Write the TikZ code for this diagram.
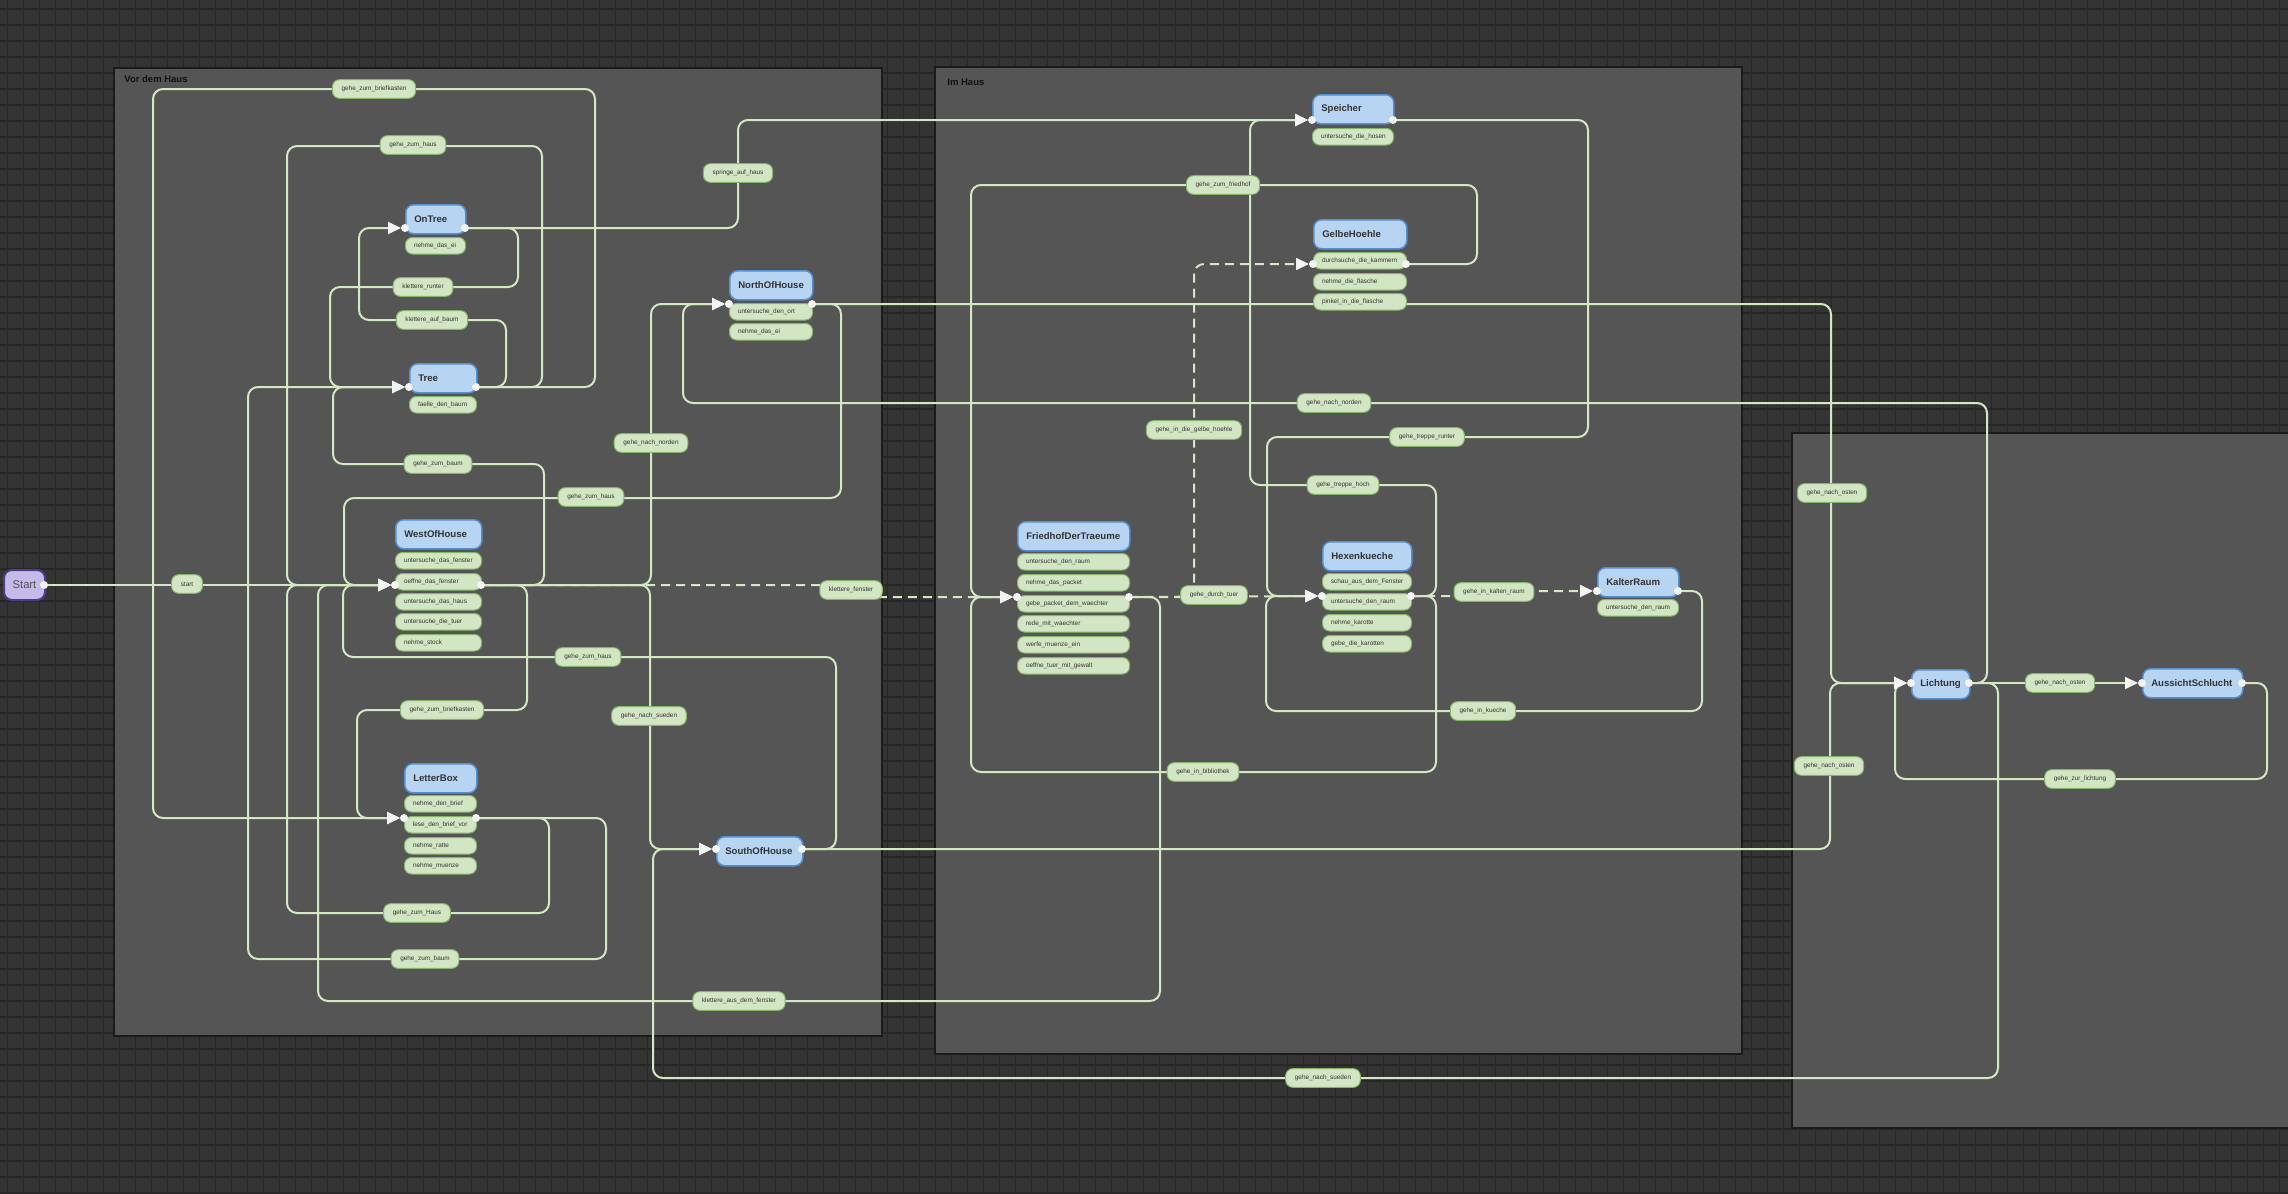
\documentclass[tikz,border=0pt]{standalone}
\usepackage{fontspec}
\setmainfont{Liberation Sans}
\usetikzlibrary{arrows.meta}
\definecolor{bgcol}{HTML}{343434}
\definecolor{gridcol}{HTML}{272727}
\definecolor{groupfill}{HTML}{555555}
\definecolor{groupborder}{HTML}{1B1B1B}
\definecolor{grouptext}{HTML}{111111}
\definecolor{statefill}{HTML}{B7D4F3}
\definecolor{stateborder}{HTML}{5590D0}
\definecolor{itemfill}{HTML}{D3E6C3}
\definecolor{itemborder}{HTML}{86B46A}
\definecolor{edgecol}{HTML}{D3E8C3}
\definecolor{textcol}{HTML}{333333}
\definecolor{startfill}{HTML}{C6BAE8}
\definecolor{startborder}{HTML}{4E3D8F}
\definecolor{portcol}{HTML}{F4F4F4}
\newcommand\stn[5]{\node[stbox] (#1) at (#2,#3) {\makebox[#4pt][l]{#5}};}
\newcommand\itm[5]{\node[itembox] (#1) at (#2,#3) {\makebox[#4pt][l]{#5}};}
\begin{document}
\begin{tikzpicture}[x=0.5pt,y=-0.5pt,
  conn/.style={draw=edgecol, line width=1pt, rounded corners=5pt, -{Triangle[length=6.5pt,width=6pt,color=portcol,fill=portcol]}},
  dconn/.style={conn, dash pattern=on 4.5pt off 3pt},
  elabel/.style={draw=itemborder, fill=itemfill, line width=0.5pt, rounded corners=3.5pt, font=\fontsize{3.2}{3.8}\selectfont, text=textcol, minimum height=9.3pt, inner xsep=4.6pt, inner ysep=0pt},
  itembox/.style={draw=itemborder, fill=itemfill, line width=0.5pt, rounded corners=3.5pt, font=\fontsize{3.2}{3.8}\selectfont, text=textcol, minimum height=8.25pt, inner xsep=4.25pt, inner ysep=0pt, anchor=north west},
  stbox/.style={draw=stateborder, fill=statefill, line width=0.75pt, rounded corners=4pt, font=\bfseries\fontsize{4.8}{5.6}\selectfont, text=textcol, minimum height=14.5pt, inner xsep=4.25pt, inner ysep=0pt, anchor=north west},
  portdot/.style={circle, fill=portcol, inner sep=0pt, minimum size=4pt},
  grp/.style={fill=groupfill, draw=groupborder, line width=0.8pt},
  grplab/.style={font=\bfseries\fontsize{4.75}{5.5}\selectfont, text=grouptext, anchor=west, inner sep=0pt}
]
\useasboundingbox (0,0) rectangle (2288,1194);
% background grid
\fill[bgcol] (0,0) rectangle (2288,1194);
\foreach \i in {0,...,143} \draw[gridcol, line width=0.8pt] (7.5+16*\i,0) -- (7.5+16*\i,1194);
\foreach \j in {0,...,74} \draw[gridcol, line width=0.8pt] (0,9+16*\j) -- (2288,9+16*\j);
% groups
\draw[grp] (114,68) rectangle (882,1036);
\draw[grp] (935,67) rectangle (1742,1054);
\draw[grp] (1792,433) rectangle (2300,1128);
\node[grplab] (g1) at (124,79) {Vor dem Haus};
\node[grplab] (g2) at (947,82) {Im Haus};

% port coordinates
\coordinate (Starto) at (44,585);
\coordinate (OnTreei) at (401,228); \coordinate (OnTreeo) at (465,228);
\coordinate (Treei) at (405,387);   \coordinate (Treeo) at (476,387);
\coordinate (NOHi) at (725,304);    \coordinate (NOHo) at (812,304);
\coordinate (WOHi) at (391,585);    \coordinate (WOHo) at (481,585);
\coordinate (LBi) at (400,818);     \coordinate (LBo) at (476,818);
\coordinate (SOHi) at (712,849);    \coordinate (SOHo) at (802,849);
\coordinate (Spi) at (1308,120);    \coordinate (Spo) at (1393,120);
\coordinate (GHi) at (1309,264);    \coordinate (GHo) at (1406,264);
\coordinate (FDi) at (1013,597);    \coordinate (FDo) at (1129,597);
\coordinate (Hexi) at (1318,596);   \coordinate (Hexo) at (1411,596);
\coordinate (KRi) at (1593,591);    \coordinate (KRo) at (1678,591);
\coordinate (Lii) at (1907,683);    \coordinate (Lio) at (1969,683);
\coordinate (Ausi) at (2138,683);   \coordinate (Auso) at (2242,683);

% dashed connectors
\draw[dconn, rounded corners=2pt] (WOHo) -- (851,585) -- (851,597) -- (FDi);
\draw[dconn] (FDo) -| (1194,264) -- (GHi);
\draw[dconn] (FDo) -- (Hexi);
\draw[dconn, rounded corners=2pt] (Hexo) -- (1494,596) -- (1494,591) -- (KRi);

% solid connectors
\draw[conn] (Starto) -- (WOHi);
\draw[conn] (Treeo) -| (595,89) -| (153,818) -- (LBi);
\draw[conn] (Treeo) -| (542,146) -| (287,585) -- (WOHi);
\draw[conn] (OnTreeo) -| (518,287) -| (330,387) -- (Treei);
\draw[conn] (Treeo) -| (506,320) -| (359,228) -- (OnTreei);
\draw[conn] (OnTreeo) -| (738,120) -- (Spi);
\draw[conn] (WOHo) -| (544,464) -| (333,387) -- (Treei);
\draw[conn] (LBo) -| (606,959) -| (248,387) -- (Treei);
\draw[conn] (NOHo) -| (841,498) -| (344,585) -- (WOHi);
\draw[conn] (WOHo) -| (651,304) -- (NOHi);
\draw[conn] (Lio) -| (1987,403) -| (683,304) -- (NOHi);
\draw[conn] (WOHo) -| (650,849) -- (SOHi);
\draw[conn] (SOHo) -| (836,657) -| (343,585) -- (WOHi);
\draw[conn] (WOHo) -| (527,710) -| (357,818) -- (LBi);
\draw[conn] (LBo) -| (549,913) -| (287,585) -- (WOHi);
\draw[conn] (FDo) -| (1160,1001) -| (318,585) -- (WOHi);
\draw[conn] (NOHo) -| (1831,683) -- (Lii);
\draw[conn] (SOHo) -| (1830,683) -- (Lii);
\draw[conn] (Lio) -| (1998,1078) -| (653,849) -- (SOHi);
\draw[conn] (Lio) -- (Ausi);
\draw[conn] (Auso) -| (2267,779) -| (1895,683) -- (Lii);
\draw[conn] (GHo) -| (1477,185) -| (971,597) -- (FDi);
\draw[conn] (Spo) -| (1588,437) -| (1267,596) -- (Hexi);
\draw[conn] (Hexo) -| (1436,485) -| (1250,120) -- (Spi);
\draw[conn] (KRo) -| (1702,711) -| (1266,596) -- (Hexi);
\draw[conn] (Hexo) -| (1436,772) -| (971,597) -- (FDi);

% connector labels
\node[elabel] (l1) at (187,584) {start};
\node[elabel] (l2) at (374,89) {gehe\_zum\_briefkasten};
\node[elabel] (l3) at (413,145) {gehe\_zum\_haus};
\node[elabel] (l4) at (738,173) {springe\_auf\_haus};
\node[elabel] (l5) at (423,287) {klettere\_runter};
\node[elabel] (l6) at (432,320) {klettere\_auf\_baum};
\node[elabel] (l7) at (651,443) {gehe\_nach\_norden};
\node[elabel] (l8) at (438,464) {gehe\_zum\_baum};
\node[elabel] (l9) at (591,497) {gehe\_zum\_haus};
\node[elabel] (l10) at (588,657) {gehe\_zum\_haus};
\node[elabel] (l11) at (442,710) {gehe\_zum\_briefkasten};
\node[elabel] (l12) at (649,716) {gehe\_nach\_sueden};
\node[elabel] (l13) at (417,913) {gehe\_zum\_Haus};
\node[elabel] (l14) at (425,959) {gehe\_zum\_baum};
\node[elabel] (l15) at (739,1001) {klettere\_aus\_dem\_fenster};
\node[elabel] (l16) at (851,590) {klettere\_fenster};
\node[elabel] (l17) at (1223,185) {gehe\_zum\_friedhof};
\node[elabel] (l18) at (1334,403) {gehe\_nach\_norden};
\node[elabel] (l19) at (1194,430) {gehe\_in\_die\_gelbe\_hoehle};
\node[elabel] (l20) at (1427,437) {gehe\_treppe\_runter};
\node[elabel] (l21) at (1343,485) {gehe\_treppe\_hoch};
\node[elabel] (l22) at (1214,595) {gehe\_durch\_tuer};
\node[elabel] (l23) at (1494,592) {gehe\_in\_kalten\_raum};
\node[elabel] (l24) at (1483,711) {gehe\_in\_kueche};
\node[elabel] (l25) at (1203,772) {gehe\_in\_bibliothek};
\node[elabel] (l26) at (1323,1078) {gehe\_nach\_sueden};
\node[elabel] (l27) at (1832,493) {gehe\_nach\_osten};
\node[elabel] (l28) at (1829,766) {gehe\_nach\_osten};
\node[elabel] (l29) at (2060,683) {gehe\_nach\_osten};
\node[elabel] (l30) at (2080,779) {gehe\_zur\_lichtung};

% start node
\node[draw=startborder, fill=startfill, line width=1pt, rounded corners=4pt, minimum width=20.5pt, minimum height=15pt, inner sep=0pt, anchor=north west, font=\fontsize{5.6}{6.5}\selectfont, text=textcol!85!white] (Start) at (3,569) {Start};

% states and their items
\stn{OnTree}{405}{204}{21.5}{OnTree}
\itm{OnTree1}{405}{237}{21.5}{nehme\_das\_ei}
\stn{Tree}{409}{363}{25}{Tree}
\itm{Tree1}{409}{396}{25}{faelle\_den\_baum}
\stn{NOH}{729}{270}{33}{NorthOfHouse}
\itm{NOH1}{729}{303}{33}{untersuche\_den\_ort}
\itm{NOH2}{729}{323}{33}{nehme\_das\_ei}
\stn{WOH}{395}{519}{34.5}{WestOfHouse}
\itm{WOH1}{395}{552}{34.5}{untersuche\_das\_fenster}
\itm{WOH2}{395}{573}{34.5}{oeffne\_das\_fenster}
\itm{WOH3}{395}{593}{34.5}{untersuche\_das\_haus}
\itm{WOH4}{395}{613}{34.5}{untersuche\_die\_tuer}
\itm{WOH5}{395}{634}{34.5}{nehme\_stock}
\stn{LB}{404}{763}{27.5}{LetterBox}
\itm{LB1}{404}{795}{27.5}{nehme\_den\_brief}
\itm{LB2}{404}{816}{27.5}{lese\_den\_brief\_vor}
\itm{LB3}{404}{837}{27.5}{nehme\_ratte}
\itm{LB4}{404}{857}{27.5}{nehme\_muenze}
\stn{SOH}{716}{836}{34.5}{SouthOfHouse}
\stn{Sp}{1312}{94}{32}{Speicher}
\itm{Sp1}{1312}{128}{32}{untersuche\_die\_hosen}
\stn{GH}{1313}{219}{38}{GelbeHoehle}
\itm{GH1}{1313}{252}{38}{durchsuche\_die\_kammern}
\itm{GH2}{1313}{273}{38}{nehme\_die\_flasche}
\itm{GH3}{1313}{293}{38}{pinkel\_in\_die\_flasche}
\stn{FD}{1017}{521}{47.5}{FriedhofDerTraeume}
\itm{FD1}{1017}{553}{47.5}{untersuche\_den\_raum}
\itm{FD2}{1017}{574}{47.5}{nehme\_das\_packet}
\itm{FD3}{1017}{595}{47.5}{gebe\_packet\_dem\_waechter}
\itm{FD4}{1017}{615}{47.5}{rede\_mit\_waechter}
\itm{FD5}{1017}{636}{47.5}{werfe\_muenze\_ein}
\itm{FD6}{1017}{657}{47.5}{oeffne\_tuer\_mit\_gewalt}
\stn{Hex}{1322}{541}{36}{Hexenkueche}
\itm{Hex1}{1322}{573}{36}{schau\_aus\_dem\_Fenster}
\itm{Hex2}{1322}{593}{36}{untersuche\_den\_raum}
\itm{Hex3}{1322}{614}{36}{nehme\_karotte}
\itm{Hex4}{1322}{635}{36}{gebe\_die\_karotten}
\stn{KR}{1597}{567}{32}{KalterRaum}
\itm{KR1}{1597}{599}{32}{untersuche\_den\_raum}
\stn{Li}{1911}{669}{20.5}{Lichtung}
\stn{Aus}{2142}{668}{41.5}{AussichtSchlucht}

% port dots
\foreach \p in {Starto,OnTreeo,Treeo,NOHo,WOHo,LBo,SOHo,Spo,GHo,FDo,Hexo,KRo,Lio,Auso}
  \node[portdot] at (\p) {};
\foreach \p in {OnTreei,Treei,NOHi,WOHi,LBi,SOHi,Spi,GHi,FDi,Hexi,KRi,Lii,Ausi}
  \node[portdot] at ([xshift=2pt]\p) {};
\end{tikzpicture}
\end{document}
